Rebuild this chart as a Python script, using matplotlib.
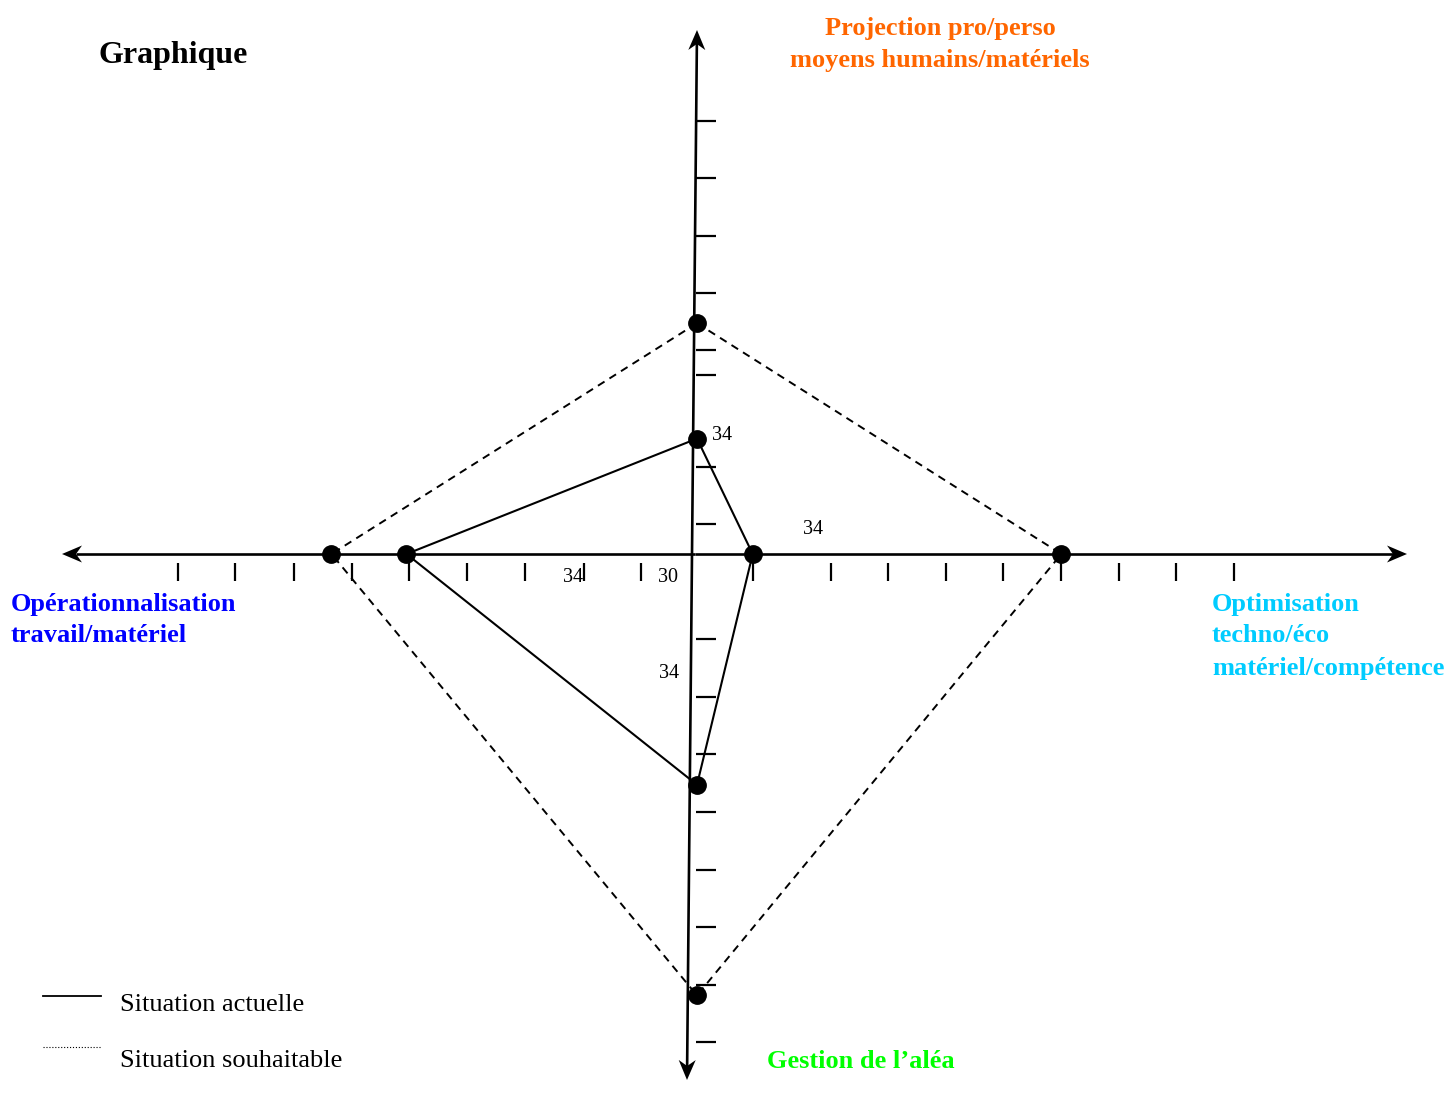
import matplotlib
matplotlib.use("Agg")
import matplotlib.pyplot as plt
from matplotlib.patches import Polygon

# values, in tick units from the centre
# order: top, right, bottom, left
axis_labels = [
    ["Projection pro/perso", "moyens humains/matériels"],
    ["Optimisation", "techno/éco", "matériel/compétence"],
    ["Gestion de l\u2019aléa"],
    ["Opérationnalisation", "travail/matériel"],
]
axis_colors = ["#ff6600", "#00ccff", "#00ff00", "#0000ff"]
actuelle = [2.0, 1.0, 4.0, 5.0]
souhaitable = [4.0, 6.35, 7.65, 6.3]

ticks_right = [1.0, 2.36, 3.34, 4.35, 5.34, 6.34, 7.35, 8.34, 9.34]
ticks_left = [0.94, 1.92, 2.95, 3.95, 4.96, 5.94, 6.95, 7.97, 8.96]
ticks_up = [0.52, 1.51, 3.1, 3.54, 4.52, 5.51, 6.52, 7.5]
ticks_down = [1.47, 2.48, 3.47, 4.47, 5.48, 6.46, 7.47, 8.46]

value_texts = ["34", "34", "34", "30", "34"]

W, H = 1452, 1095
CX, CY, UNIT = 695, 554, 57.7
SERIF = ["Liberation Serif", "DejaVu Serif"]
DY = 3  # small downward nudge for text baselines


def u(px, py):
    # pixel position -> axis units
    return (px - CX) / UNIT, (CY - py) / UNIT


def f(px, py):
    # pixel position -> figure fraction
    return px / W, 1 - (py + DY) / H


fig = plt.figure(figsize=(W / 100, H / 100), dpi=100)
ax = fig.add_axes([0, 0, 1, 1])
ax.set_xlim(u(0, 0)[0], u(W, 0)[0])
ax.set_ylim(u(0, H)[1], u(0, 0)[1])
ax.axis("off")


def arrow_axis(start, tip):
    # line plus a notched, filled head (lengths in pixels)
    sx, sy = start
    tx, ty = tip
    dx, dy = tx - sx, ty - sy
    n = (dx ** 2 + dy ** 2) ** 0.5
    dx, dy = dx / n, dy / n
    L, Wd, notch = 20 / UNIT, 8.5 / UNIT, 6 / UNIT
    bx, by = tx - dx * L, ty - dy * L
    head = [(tx, ty), (bx - dy * Wd, by + dx * Wd),
            (tx - dx * (L - notch), ty - dy * (L - notch)),
            (bx + dy * Wd, by - dx * Wd)]
    ax.plot([sx, tx - dx * (L - notch)], [sy, ty - dy * (L - notch)],
            color="black", lw=1.9, solid_capstyle="butt")
    ax.add_patch(Polygon(head, closed=True, color="black", lw=0))


arrow_axis((0, 0), u(62, 554))
arrow_axis((0, 0), u(1407, 554))
arrow_axis(u(692, 554), u(697, 30))
arrow_axis(u(692, 554), u(687, 1080))

# tick marks
t0, t1 = u(0, 563)[1], u(0, 581)[1]
ax.vlines(ticks_right, t1, t0, color="black", lw=1.6)
ax.vlines([-t for t in ticks_left], t1, t0, color="black", lw=1.6)
h0, h1 = u(696, 0)[0], u(716, 0)[0]
ax.hlines(ticks_up, h0, h1, color="black", lw=1.6)
ax.hlines([-t for t in ticks_down], h0, h1, color="black", lw=1.6)

# the two situations
vx = u(697, 0)[0]


def outline(vals):
    t, r, b, l = vals
    return [vx, r, vx, -l, vx], [t, 0, -b, 0, t]


xs, ys = outline(souhaitable)
ax.plot(xs, ys, color="black", lw=1.4, dashes=(4, 3))
ax.plot(xs[:4], ys[:4], "o", color="black", ms=12.5)
xs, ys = outline(actuelle)
ax.plot(xs, ys, color="black", lw=1.5)
ax.plot(xs[:4], ys[:4], "o", color="black", ms=12.5)

# value labels
for txt, pos in zip(value_texts, [(722, 432), (813, 527), (573, 575),
                                  (668, 575), (669, 671)]):
    fig.text(*f(*pos), txt, family=SERIF, fontsize=14.5, ha="center", va="center")

# axis titles
label_pos = [
    ([(940, 26), (940, 57)], "center"),
    ([(1212, 601), (1212, 633), (1212, 665)], "left"),
    ([(767, 1059)], "left"),
    ([(11, 601), (11, 633)], "left"),
]
for lines, (pts, ha), col in zip(axis_labels, label_pos, axis_colors):
    for line, p in zip(lines, pts):
        fig.text(*f(*p), line, family=SERIF, fontsize=19, fontweight="bold",
                 color=col, ha=ha, va="center")

fig.text(*f(98, 53), "Graphique", family=SERIF, fontsize=23,
         fontweight="bold", ha="left", va="center")

# legend
a, b = u(43, 996), u(101, 996)
ax.plot([a[0], b[0]], [a[1], b[1]], color="black", lw=1.3)
a, b = u(43, 1047), u(101, 1047)
ax.plot([a[0], b[0]], [a[1], b[1]], color="black", lw=0.8, ls=":")
fig.text(*f(120, 1002), "Situation actuelle", family=SERIF, fontsize=19,
         ha="left", va="center")
fig.text(*f(120, 1058), "Situation souhaitable", family=SERIF, fontsize=19,
         ha="left", va="center")

fig.savefig("out.png", dpi=100)
